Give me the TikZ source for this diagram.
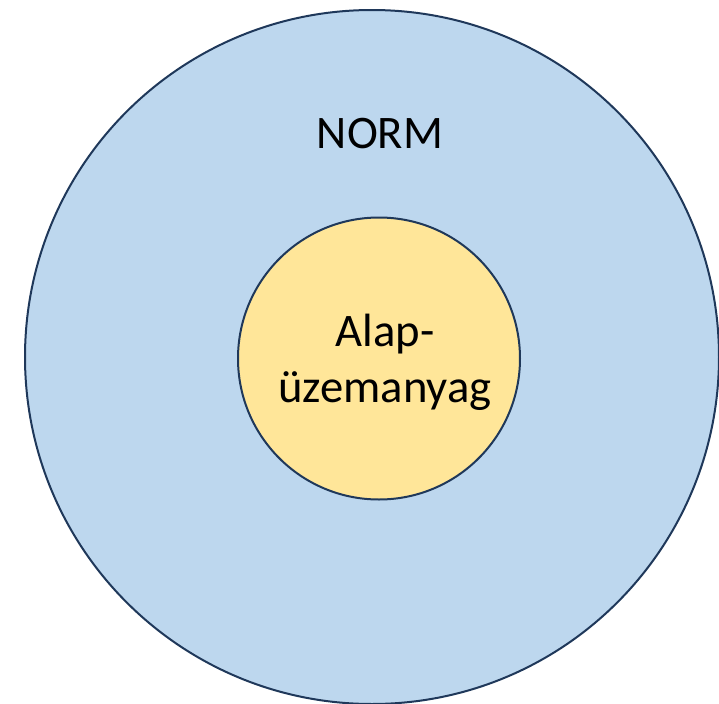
\documentclass[tikz,border=0pt]{standalone}
\usepackage{fontspec}
\setmainfont{Carlito}
\definecolor{normblue}{HTML}{BDD7EE}
\definecolor{alapyellow}{HTML}{FFE699}
\definecolor{rimnavy}{RGB}{31,56,90}

\tikzset{
  ring/.style={circle, draw=rimnavy, line width=1.5pt, inner sep=0pt},
  lbl/.style={font=\fontsize{35}{42}\selectfont, text=black}
}

\begin{document}
\begin{tikzpicture}[x=0.75pt, y=-0.75pt]
      % canvas 719 x 704 px, origin top left
      \useasboundingbox (0,0) rectangle (719,704);
      % outer circle: NORM
      \node[ring, fill=normblue, minimum size=694*0.75pt] (norm) at (372,357) {};
      \node[lbl] (normlbl) at (380,134) {NORM};
      % inner circle: base fuel
      \node[ring, fill=alapyellow, minimum size=282*0.75pt] (alap) at (379,358.5) {};
      \node[lbl, align=center] (alaplbl) at (385,362) {Alap-\\üzemanyag};
    \end{tikzpicture}
\end{document}
